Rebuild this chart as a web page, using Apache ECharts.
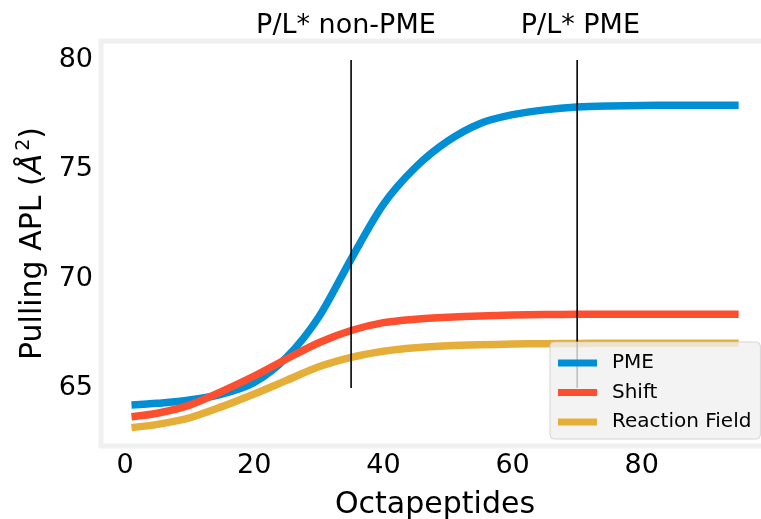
<!DOCTYPE html>
<html><head><meta charset="utf-8">
<script src="https://cdn.jsdelivr.net/npm/echarts@6/dist/echarts.min.js"></script>
<style>html,body{margin:0;padding:0;background:#fff;overflow:hidden}#c{width:780px;height:519px}</style>
</head><body><div id="c"></div>
<script>
// ---- data ----
const octapeptides = [1, 5, 10, 15, 20, 25, 30, 35, 40, 45, 50, 55, 60, 65, 70, 75, 80, 85, 90, 95];
const pme          = [64.22, 64.30, 64.45, 64.72, 65.25, 66.40, 68.25, 70.90, 73.40, 75.10, 76.30, 77.10, 77.50, 77.72, 77.85, 77.90, 77.92, 77.93, 77.93, 77.93];
const shift        = [63.69, 63.85, 64.22, 64.85, 65.55, 66.33, 67.07, 67.63, 67.99, 68.15, 68.24, 68.30, 68.34, 68.36, 68.37, 68.37, 68.37, 68.37, 68.37, 68.37];
const reactionField= [63.19, 63.34, 63.64, 64.15, 64.73, 65.35, 65.97, 66.40, 66.68, 66.84, 66.93, 66.98, 67.01, 67.03, 67.04, 67.05, 67.05, 67.05, 67.05, 67.05];
const seriesNames  = ['PME', 'Shift', 'Reaction Field'];
const markerX      = [35, 70];
const markerYRange = [65, 80];
const markerLabels = ['P/L* non-PME', 'P/L* PME'];
const markerLabelX = [34.2, 70.5];
const markerLabelY = 81.55;
const xTicks = [0, 20, 40, 60, 80];
const yTicks = [65, 70, 75, 80];

// ---- styles ----
const FONT = 'DejaVu Sans';
const colors = ['#008fd5', '#fc4f30', '#e5ae38'];
const values = [pme, shift, reactionField];

const chart = echarts.init(document.getElementById('c'), null, {renderer: 'canvas'});

const series = seriesNames.map((name, i) => ({
  name: name,
  type: 'line',
  data: octapeptides.map((x, j) => [x, values[i][j]]),
  smooth: 0.3,
  symbol: 'none',
  color: colors[i],
  lineStyle: {color: colors[i], width: 7.5, cap: 'butt'},
  z: 2,
  silent: true
}));
markerX.forEach((mx) => {
  series.push({
    type: 'line',
    data: [[mx, markerYRange[0]], [mx, markerYRange[1]]],
    symbol: 'none',
    lineStyle: {color: '#000', width: 1.6},
    z: 3,
    silent: true
  });
});

chart.setOption({
  animation: false,
  backgroundColor: '#fff',
  grid: {
    left: 101, top: 41, width: 668, height: 405,
    show: true, backgroundColor: '#fff', borderColor: '#f0f0f0', borderWidth: 5,
    containLabel: false, outerBoundsMode: 'none'
  },
  xAxis: {
    type: 'value', min: -3.72, max: 99.7, splitNumber: 5,
    axisLine: {show: false}, axisTick: {show: false}, splitLine: {show: false},
    axisLabel: {
      fontFamily: FONT, fontSize: 27, color: '#000', margin: 6,
      formatter: v => xTicks.indexOf(v) >= 0 ? String(v) : ''
    },
    name: 'Octapeptides', nameLocation: 'middle', nameGap: 44,
    nameTextStyle: {fontFamily: FONT, fontSize: 30, color: '#000'}
  },
  yAxis: {
    type: 'value', min: 62.35, max: 80.87, splitNumber: 4,
    axisLine: {show: false}, axisTick: {show: false}, splitLine: {show: false},
    axisLabel: {
      fontFamily: FONT, fontSize: 27, color: '#000', margin: 8,
      formatter: v => yTicks.indexOf(v) >= 0 ? String(v) : ''
    },
    name: '{n|Pulling APL (}{i|Å}{s|2}{n|)}', nameLocation: 'middle', nameGap: 50,
    nameTextStyle: {
      fontFamily: FONT, fontSize: 30, color: '#000',
      rich: {
        n: {fontFamily: FONT, fontSize: 30, color: '#000', lineHeight: 36},
        i: {fontFamily: FONT, fontSize: 30, color: '#000', fontStyle: 'italic', lineHeight: 36},
        s: {fontFamily: FONT, fontSize: 19, color: '#000', verticalAlign: 'top', lineHeight: 36, padding: [0, 0, 0, 3]}
      }
    }
  },
  legend: {
    data: seriesNames,
    orient: 'vertical', left: 550, top: 342, align: 'left',
    icon: 'rect', itemWidth: 39, itemHeight: 7, itemGap: 9.5,
    padding: [11, 9, 7, 8],
    backgroundColor: 'rgba(240,240,240,0.8)', borderColor: 'rgba(204,204,204,0.8)', borderWidth: 1, borderRadius: 4,
    textStyle: {fontFamily: FONT, fontSize: 20, color: '#000', lineHeight: 20, padding: [0, 0, 0, 10]},
    selectedMode: false, z: 10
  },
  series: series
});

const texts = markerLabels.map((t, i) => {
  const p = chart.convertToPixel({gridIndex: 0}, [markerLabelX[i], markerLabelY]);
  return {
    type: 'text', x: p[0], y: p[1], z: 20,
    style: {text: t, fontFamily: FONT, fontSize: 27, fill: '#000', align: 'center', verticalAlign: 'middle'}
  };
});
chart.setOption({graphic: texts});
</script>
</body></html>
